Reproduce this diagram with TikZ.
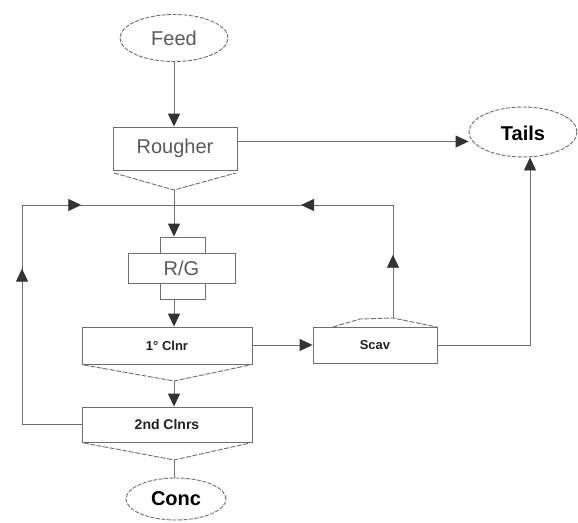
\documentclass[tikz,border=0pt]{standalone}
\usepackage{fontspec}
\setmainfont{Liberation Sans}
\usetikzlibrary{arrows.meta,shapes.geometric,decorations.markings}
\definecolor{ln}{HTML}{6E6E6E}
\definecolor{ah}{HTML}{333333}
\definecolor{tx}{HTML}{5A5A5A}
\definecolor{bx}{HTML}{222222}
\tikzset{
  base/.style={draw=ln,line width=0.9pt,inner sep=0pt},
  oval/.style={base,ellipse,dashed,dash pattern=on 4pt off 1.5pt},
  boxnode/.style={base,rectangle},
  chev/.style={draw=ln,line width=0.9pt,dash pattern=on 5pt off 1.5pt},
  conn/.style={draw=ln,line width=0.9pt},
  tip/.style={-{Triangle[length=13pt,width=12pt,color=ah]}},
  midarrow/.style={postaction={decorate},decoration={markings,
     mark=at position #1 with {\arrow{Triangle[length=13pt,width=12pt,color=ah]}}}},
  big/.style={font=\fontsize{20}{24}\selectfont},
  small/.style={font=\fontsize{13}{15}\selectfont\bfseries,text=bx},
}
\begin{document}
\begin{tikzpicture}[x=1pt,y=-1pt]
\useasboundingbox[fill=white] (0,0) rectangle (578,522);
% nodes
\node[oval,big,text=tx,minimum width=108pt,minimum height=47pt] (Feed) at (174,38) {Feed};
\node[boxnode,big,text=tx,minimum width=124pt,minimum height=43pt] (Rougher) at (175,148.5) {Rougher};
\node[oval,big,font=\fontsize{20}{24}\selectfont\bfseries,minimum width=108pt,minimum height=50pt,text depth=0pt] (Tails) at (523,132) {\raisebox{-3pt}{Tails}};
\node[boxnode,minimum width=45pt,minimum height=16pt] (rgtop) at (182.5,245) {};
\node[boxnode,minimum width=45pt,minimum height=16pt] (rgbot) at (182.5,291) {};
\node[boxnode,fill=white,big,text=tx,minimum width=107pt,minimum height=30pt] (RG) at (181.5,268) {R/G};
\node[boxnode,small,minimum width=170pt,minimum height=37pt] (c1) at (167,345.5) {1° Clnr};
\node[boxnode,small,minimum width=124pt,minimum height=36pt] (Scav) at (375,345) {Scav};
\node[boxnode,small,font=\fontsize{14}{16}\selectfont\bfseries,minimum width=170pt,minimum height=35pt] (c2) at (167,424.5) {2nd Clnrs};
\node[oval,big,font=\fontsize{20}{24}\selectfont\bfseries,minimum width=100pt,minimum height=42pt] (Conc) at (176,499) {Conc};
% chevrons and roof
\coordinate (rtip) at (174,190);
\coordinate (c1tip) at (174,381);
\coordinate (c2tip) at (174,460);
\coordinate (scavtop) at (393,318);
\draw[chev] (114,173) -- (rtip) -- (236,173);
\draw[chev] (84,365) -- (c1tip) -- (250,365);
\draw[chev] (84,443) -- (c2tip) -- (250,443);
\draw[chev] (333,327) -- (360,319) -- (scavtop) -- (437,327);
% loop coordinates
\coordinate (loopL) at (22,205);
\coordinate (loopR) at (393,205);
% connectors
\draw[conn,tip] (Feed.south) -- (Feed.south |- Rougher.north);
\draw[conn,tip] (rtip) -- (rtip |- rgtop.north);
\draw[conn,tip] (rtip |- rgbot.south) -- (rtip |- c1.north);
\draw[conn,tip] (c1tip) -- (c1tip |- c2.north);
\draw[conn] (c2tip) -- (c2tip |- Conc.north);
\draw[conn,tip] ([yshift=7pt]Rougher.east) -- ([yshift=7pt]Rougher.east -| Tails.west);
\draw[conn,tip] (c1.east |- Scav.west) -- (Scav.west);
\draw[conn,tip] (Scav.east) -| ([xshift=7pt]Tails.south);
\draw[conn] (c2.west) -- (c2.west -| loopL);
\draw[conn,midarrow=0.71] (c2.west -| loopL) -- (loopL);
\draw[conn,midarrow=0.39] (loopL) -- (rtip |- loopL);
\draw[conn,midarrow=0.56] (scavtop) -- (loopR);
\draw[conn,midarrow=0.42] (loopR) -- (rtip |- loopR);
\end{tikzpicture}
\end{document}
